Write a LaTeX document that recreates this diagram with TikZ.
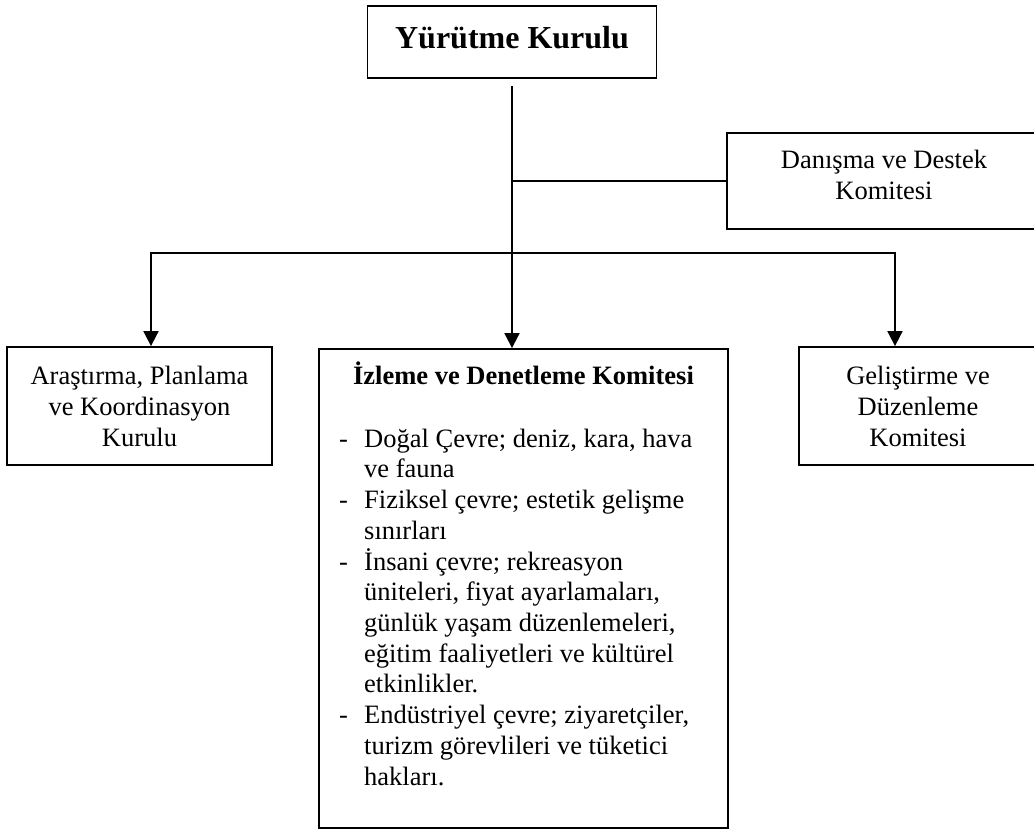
\documentclass[tikz,border=0pt]{standalone}
\usepackage{fontspec}
\setmainfont{Liberation Serif}
\usetikzlibrary{arrows.meta}
\tikzstyle{unit} = [rectangle, draw=black, line width=1.8pt, text centered, align=center, font=\fontsize{26.5pt}{31pt}\selectfont]
\tikzstyle{link} = [line width=1.8pt]
\tikzstyle{arrow} = [line width=1.8pt,-{Triangle[length=15pt,width=15pt]}]

\begin{document}
\begin{tikzpicture}[x=1pt,y=-1pt]
\useasboundingbox (0,0) rectangle (1034,830);

\node (yurutme) [unit, minimum width=289pt, minimum height=72pt, text depth=9.5pt, font=\fontsize{32pt}{36pt}\selectfont\bfseries] at (512,42) {Yürütme Kurulu};
\node (danisma) [unit, minimum width=314pt, minimum height=96pt, text depth=12pt] at (884,181) {Danışma ve Destek\\Komitesi};
\node (arastirma) [unit, minimum width=265pt, minimum height=118pt] at (139.5,406) {Araştırma, Planlama\\ve Koordinasyon\\Kurulu};
\node (gelistirme) [unit, minimum width=238pt, minimum height=118pt] at (918,406) {Geliştirme ve\\Düzenleme\\Komitesi};
\node (izleme) [unit, minimum width=409pt, minimum height=479pt] at (523.5,588.5) {};

% middle committee text
\node (izlemebaslik) [anchor=base, font=\fontsize{26.5pt}{31pt}\selectfont\bfseries] at (523.5,384) {İzleme ve Denetleme Komitesi};
\node (izlemeliste) [anchor=base west, inner sep=0pt, font=\fontsize{26.5pt}{30.7pt}\selectfont] at (339,447) {%
\begin{tabular}[t]{@{}p{25pt}@{}l@{}}
- & Doğal Çevre; deniz, kara, hava\\
  & ve fauna\\
- & Fiziksel çevre; estetik gelişme\\
  & sınırları\\
- & İnsani çevre; rekreasyon\\
  & üniteleri, fiyat ayarlamaları,\\
  & günlük yaşam düzenlemeleri,\\
  & eğitim faaliyetleri ve kültürel\\
  & etkinlikler.\\
- & Endüstriyel çevre; ziyaretçiler,\\
  & turizm görevlileri ve tüketici\\
  & hakları.
\end{tabular}};

\coordinate (kavsak) at (512,253);
\coordinate (solkol) at (151,253);
\coordinate (sagkol) at (895,253);

\draw [link, shorten <=7pt] (yurutme.south) -- (kavsak);
\draw [link] (danisma.west) -- (danisma.west -| kavsak);
\draw [arrow] (kavsak) -- (solkol) -- (solkol |- arastirma.north);
\draw [arrow] (kavsak) -- (sagkol) -- (sagkol |- gelistirme.north);
\draw [arrow] (kavsak) -- (kavsak |- izleme.north);

\end{tikzpicture}
\end{document}
